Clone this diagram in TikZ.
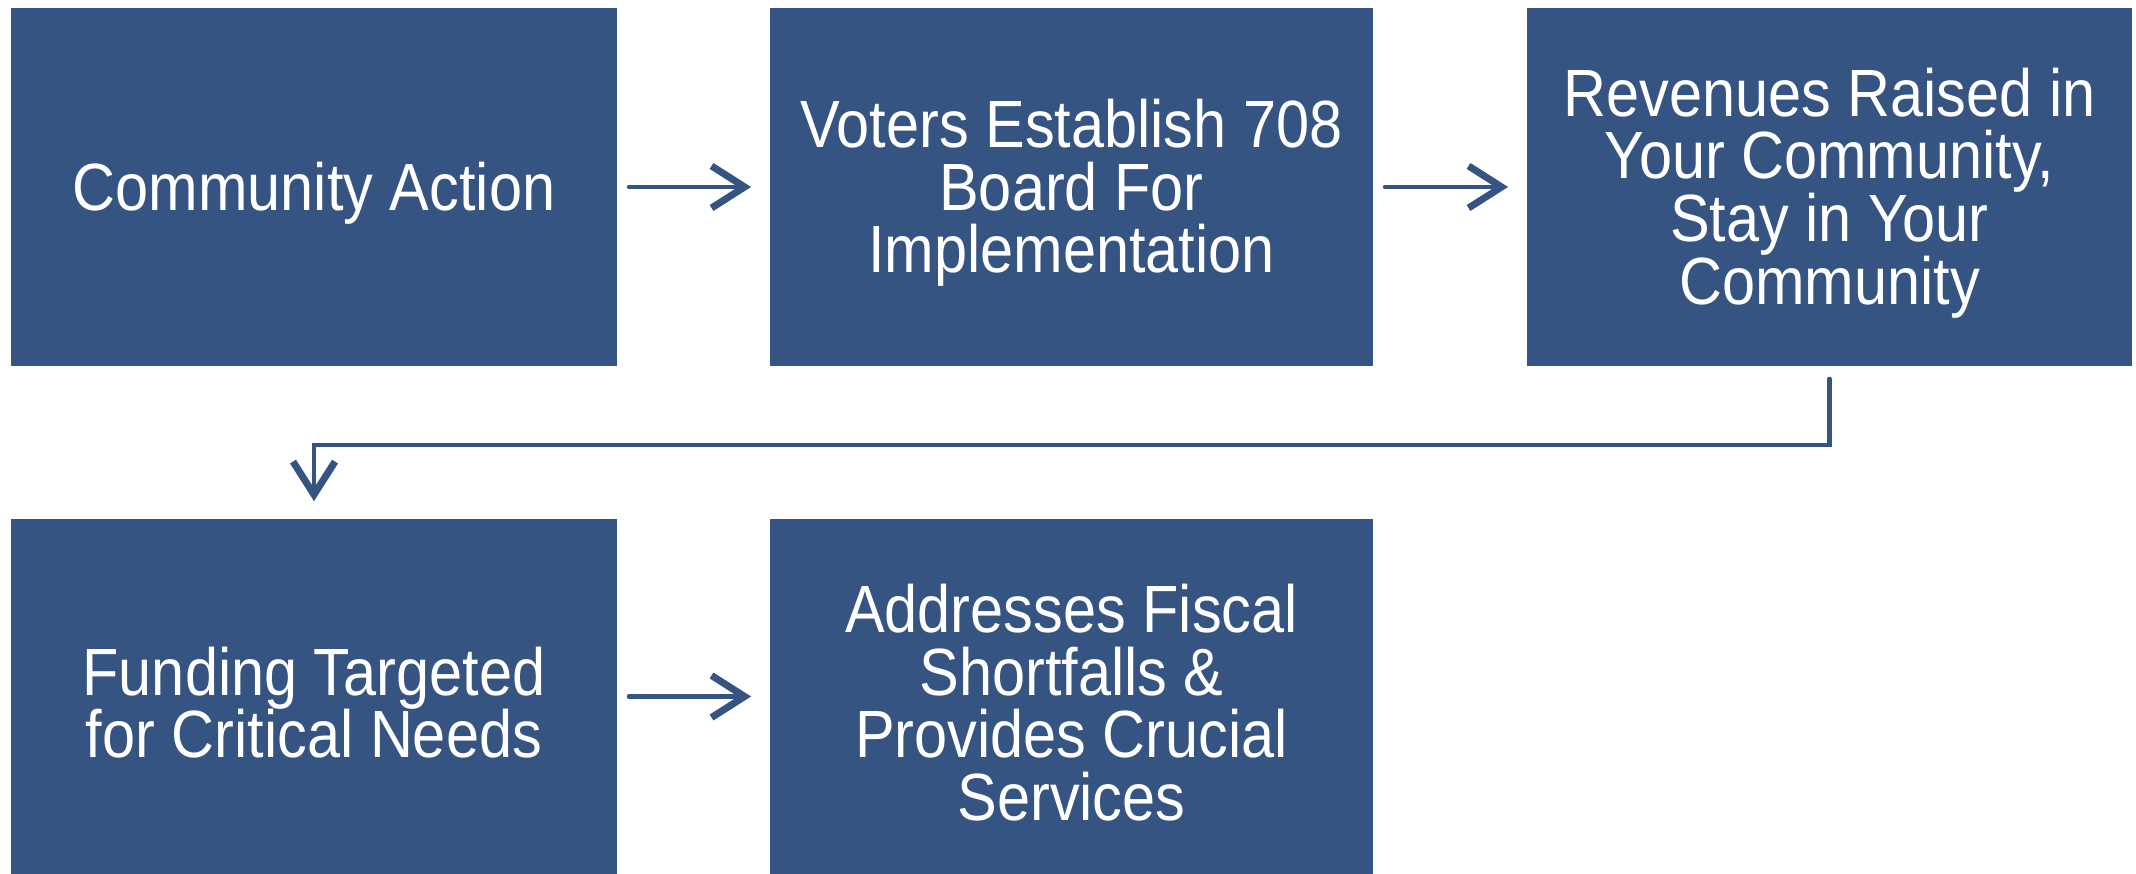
\documentclass[tikz,border=0pt]{standalone}
\usepackage{fontspec}
\setmainfont[FakeStretch=0.89]{Liberation Sans}
\usetikzlibrary{arrows.meta}
\definecolor{boxblue}{RGB}{54,84,130}
\begin{document}
\begin{tikzpicture}[x=0.01cm,y=-0.01cm,
  stepbox/.style={rectangle, fill=boxblue, draw=none, inner sep=0pt},
  steptext/.style={text=white, align=center, inner sep=0pt, yshift=-0.06cm,
    font=\fontsize{19}{17.84}\selectfont},
  arr/.style={draw=boxblue, line width=1.2pt, line cap=round,
    -{Straight Barb[length=3.3mm,width=4.2mm,line width=2pt]}}
]
\useasboundingbox (0,0) rectangle (2136,874);
\node[stepbox, minimum width=6.06cm, minimum height=3.58cm,
  label={[steptext]center:{Community Action}}] (b1) at (314,187) {};
\node[stepbox, minimum width=6.03cm, minimum height=3.58cm,
  label={[steptext]center:{Voters Establish 708\\Board For\\Implementation}}] (b2) at (1071.5,187) {};
\node[stepbox, minimum width=6.05cm, minimum height=3.58cm,
  label={[steptext]center:{Revenues Raised in\\Your Community,\\Stay in Your\\Community}}] (b3) at (1829.5,187) {};
\node[stepbox, minimum width=6.06cm, minimum height=3.55cm,
  label={[steptext]center:{Funding Targeted\\for Critical Needs}}] (b4) at (314,696.5) {};
\node[stepbox, minimum width=6.03cm, minimum height=3.55cm,
  label={[steptext]center:{Addresses Fiscal\\Shortfalls \&\\Provides Crucial\\Services}}] (b5) at (1071.5,696.5) {};
\coordinate (turn) at (1000,445);
\draw[arr, shorten <=0.11cm, shorten >=0.18cm] (b1.east) -- (b2.west);
\draw[arr, shorten <=0.11cm, shorten >=0.18cm] (b2.east) -- (b3.west);
\draw[arr, shorten <=0.12cm, shorten >=0.17cm] (b3.south) -- (b3.south |- turn) -| (b4.north);
\draw[arr, shorten <=0.11cm, shorten >=0.18cm] (b4.east) -- (b5.west);
\end{tikzpicture}
\end{document}
